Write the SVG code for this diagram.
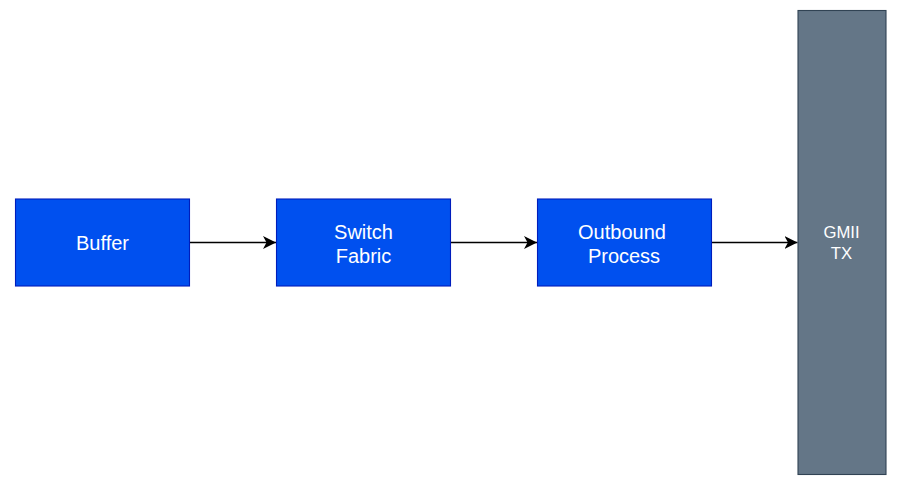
<svg xmlns="http://www.w3.org/2000/svg" width="897" height="492" viewBox="0 0 897 492">
<style>
.blk{fill:#0050ef;stroke:#001dbc;stroke-width:1.1}
.gry{fill:#647687;stroke:#314354;stroke-width:1.1}
.t{font-family:"Liberation Sans",Arial,sans-serif;font-size:20px;fill:#ffffff;text-anchor:middle}
.t2{font-family:"Liberation Sans",Arial,sans-serif;font-size:16.7px;fill:#ffffff;text-anchor:middle}
.c{fill:none;stroke:#000000;stroke-width:1.5}
</style>
<defs>
<marker id="ah" markerWidth="14" markerHeight="14" refX="13" refY="7" orient="auto" markerUnits="userSpaceOnUse">
<path d="M0,0.5 L13,7 L0,13.5 L3.5,7 Z" fill="#000000"/>
</marker>
</defs>
<rect width="897" height="492" fill="#ffffff"/>
<g id="connectors">
<path class="c" d="M189.5,242.5 L276,242.5" marker-end="url(#ah)"/>
<path class="c" d="M450.5,242.5 L537,242.5" marker-end="url(#ah)"/>
<path class="c" d="M711.5,242.5 L797.5,242.5" marker-end="url(#ah)"/>
</g>
<g id="buffer">
<rect class="blk" x="15.5" y="199" width="174" height="87"/>
<text class="t" x="102.5" y="249.5">Buffer</text>
</g>
<g id="switch-fabric">
<rect class="blk" x="276.5" y="199" width="174" height="87"/>
<text class="t" x="363.5" y="239">Switch</text>
<text class="t" x="363.5" y="263">Fabric</text>
</g>
<g id="outbound-process">
<rect class="blk" x="537.5" y="199" width="174" height="87"/>
<text class="t" x="622" y="239">Outbound</text>
<text class="t" x="624" y="263">Process</text>
</g>
<g id="gmii-tx">
<rect class="gry" x="798" y="10.5" width="88" height="464"/>
<text class="t2" x="841.5" y="238">GMII</text>
<text class="t2" x="841.5" y="259">TX</text>
</g>
</svg>
